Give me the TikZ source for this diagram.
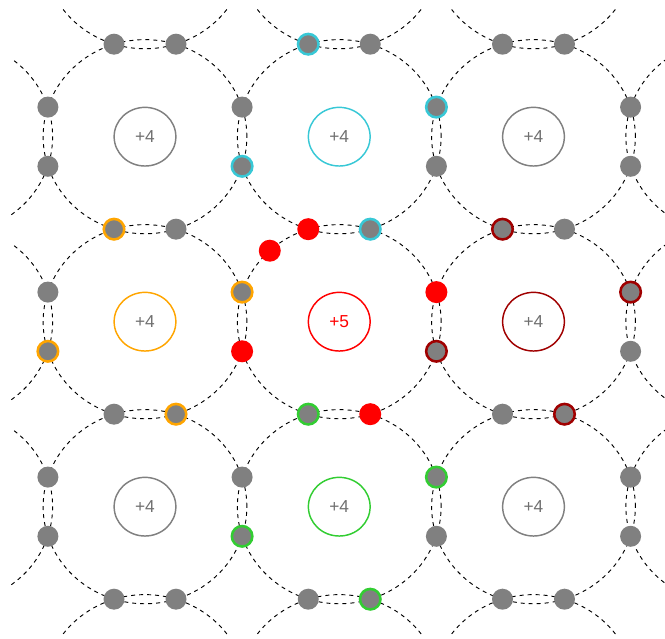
\documentclass[tikz,border=0pt]{standalone}
\usepackage{fontspec}
\setmainfont{Liberation Sans}
\usetikzlibrary{shapes.geometric,calc}
\definecolor{egray}{RGB}{128,128,128}
\definecolor{tgray}{RGB}{112,112,112}
\definecolor{ecyan}{RGB}{56,200,214}
\definecolor{eorange}{RGB}{255,165,0}
\definecolor{edark}{RGB}{160,0,0}
\definecolor{egreen}{RGB}{50,205,50}
\definecolor{ered}{RGB}{255,0,0}
\begin{document}
\begin{tikzpicture}[x=0.75pt,y=0.75pt,
  bondring/.style={draw=black, dash pattern=on 3pt off 3pt, line width=0.7pt},
  atom/.style={ellipse, draw=#1, line width=1.1pt, minimum width=46.3pt, minimum height=44pt, inner sep=0pt, text=tgray, font=\fontsize{13}{15}\selectfont},
  el/.style={circle, fill=egray, minimum size=15.75pt, inner sep=0pt},
  elc/.style={circle, fill=egray, draw=#1, line width=1.9pt, minimum size=15.4pt, inner sep=0pt},
  elr/.style={circle, fill=ered, minimum size=16.5pt, inner sep=0pt}]
\useasboundingbox (0,0) rectangle (665,639);
% atoms
\node[atom=egray] (a00) at (145,502.3) {+4};
\node[atom=ecyan] (a10) at (339.25,502.3) {+4};
\node[atom=egray] (a20) at (533.5,502.3) {+4};
\node[atom=eorange] (a01) at (145,317.3) {+4};
\node[atom=ered, text=ered] (a11) at (339.25,317.3) {+5};
\node[atom=edark] (a21) at (533.5,317.3) {+4};
\node[atom=egray] (a02) at (145,132.3) {+4};
\node[atom=egreen] (a12) at (339.25,132.3) {+4};
\node[atom=egray] (a22) at (533.5,132.3) {+4};
% rings
\foreach \n in {a00,a10,a20,a01,a11,a21,a02,a12,a22}
  \draw[bondring] (\n.center) ellipse [x radius=76.4pt, y radius=72.8pt];
% outer neighbour arcs
\foreach \y [count=\j] in {502.3,317.3,132.3}{
  \coordinate (L\j) at (-49.25,\y);
  \coordinate (R\j) at (727.75,\y);
  \draw[bondring] (L\j) ++(-53.5:76.4pt and 72.8pt) arc[start angle=-53.5, end angle=53.5, x radius=76.4pt, y radius=72.8pt];
  \draw[bondring] (R\j) ++(126.5:76.4pt and 72.8pt) arc[start angle=126.5, end angle=233.5, x radius=76.4pt, y radius=72.8pt];
}
\foreach \x [count=\i] in {145,339.25,533.5}{
  \coordinate (T\i) at (\x,687.3);
  \coordinate (B\i) at (\x,-52.7);
  \draw[bondring] (T\i) ++(216.5:76.4pt and 72.8pt) arc[start angle=216.5, end angle=323.5, x radius=76.4pt, y radius=72.8pt];
  \draw[bondring] (B\i) ++(36.5:76.4pt and 72.8pt) arc[start angle=36.5, end angle=143.5, x radius=76.4pt, y radius=72.8pt];
}
% electrons on horizontal bonds
\node[el] (h0at) at (47.9,531.9) {};
\node[el] (h0ab) at (47.9,472.7) {};
\node[el] (h0bt) at (47.9,346.9) {};
\node[elc=eorange] (h0bb) at (47.9,287.7) {};
\node[el] (h0ct) at (47.9,161.9) {};
\node[el] (h0cb) at (47.9,102.7) {};
\node[el] (h1at) at (242.1,531.9) {};
\node[elc=ecyan] (h1ab) at (242.1,472.7) {};
\node[elc=eorange] (h1bt) at (242.1,346.9) {};
\node[elr] (h1bb) at (242.1,287.7) {};
\node[el] (h1ct) at (242.1,161.9) {};
\node[elc=egreen] (h1cb) at (242.1,102.7) {};
\node[elc=ecyan] (h2at) at (436.4,531.9) {};
\node[el] (h2ab) at (436.4,472.7) {};
\node[elr] (h2bt) at (436.4,346.9) {};
\node[elc=edark] (h2bb) at (436.4,287.7) {};
\node[elc=egreen] (h2ct) at (436.4,161.9) {};
\node[el] (h2cb) at (436.4,102.7) {};
\node[el] (h3at) at (630.6,531.9) {};
\node[el] (h3ab) at (630.6,472.7) {};
\node[elc=edark] (h3bt) at (630.6,346.9) {};
\node[el] (h3bb) at (630.6,287.7) {};
\node[el] (h3ct) at (630.6,161.9) {};
\node[el] (h3cb) at (630.6,102.7) {};
% electrons on vertical bonds
\node[el] (v0al) at (114,594.8) {};
\node[el] (v0ar) at (176,594.8) {};
\node[elc=ecyan] (v1al) at (308.25,594.8) {};
\node[el] (v1ar) at (370.25,594.8) {};
\node[el] (v2al) at (502.5,594.8) {};
\node[el] (v2ar) at (564.5,594.8) {};
\node[elc=eorange] (v0bl) at (114,409.8) {};
\node[el] (v0br) at (176,409.8) {};
\node[elr] (v1bl) at (308.25,409.8) {};
\node[elc=ecyan] (v1br) at (370.25,409.8) {};
\node[elc=edark] (v2bl) at (502.5,409.8) {};
\node[el] (v2br) at (564.5,409.8) {};
\node[el] (v0cl) at (114,224.8) {};
\node[elc=eorange] (v0cr) at (176,224.8) {};
\node[elc=egreen] (v1cl) at (308.25,224.8) {};
\node[elr] (v1cr) at (370.25,224.8) {};
\node[el] (v2cl) at (502.5,224.8) {};
\node[elc=edark] (v2cr) at (564.5,224.8) {};
\node[el] (v0dl) at (114,39.8) {};
\node[el] (v0dr) at (176,39.8) {};
\node[el] (v1dl) at (308.25,39.8) {};
\node[elc=egreen] (v1dr) at (370.25,39.8) {};
\node[el] (v2dl) at (502.5,39.8) {};
\node[el] (v2dr) at (564.5,39.8) {};
% extra electron of the +5 atom
\node[elr] (extra) at ($(a11.center)+(133:76.4pt and 72.8pt)$) {};
\end{tikzpicture}
\end{document}
